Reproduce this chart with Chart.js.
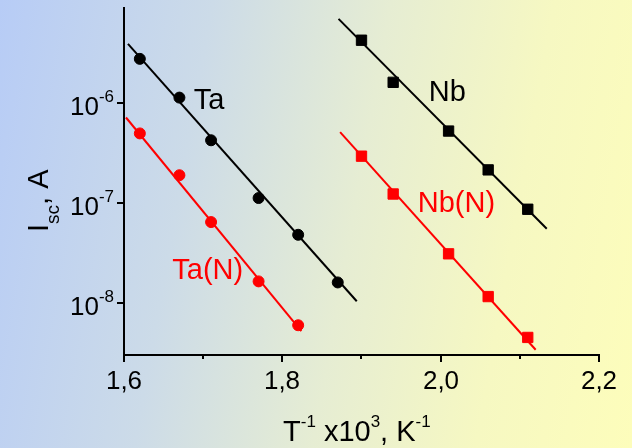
<!DOCTYPE html>
<html>
<head>
<meta charset="utf-8">
<script src="https://cdn.jsdelivr.net/npm/chart.js@4/dist/chart.umd.min.js"></script>
<style>
  html, body { margin:0; padding:0; }
  body { width:632px; height:448px; overflow:hidden;
         background: linear-gradient(100deg, #b7ccf6 0%, #ccdbe8 30%, #e6edd3 55%, #f6f8c2 78%, #fdfdbb 100%); }
  canvas { display:block; }
</style>
</head>
<body>
<canvas id="c" width="632" height="448"></canvas>
<script>
// measured points, x = 1000/T, y = Isc (A)
const taX = [1.62, 1.67, 1.71, 1.77, 1.82, 1.87];
const taY = [2.78e-6, 1.14e-6, 4.27e-7, 1.13e-7, 4.85e-8, 1.62e-8];
const taNX = [1.62, 1.67, 1.71, 1.77, 1.82];
const taNY = [5.0e-7, 1.91e-7, 6.5e-8, 1.66e-8, 6.05e-9];
const nbX = [1.90, 1.94, 2.01, 2.06, 2.11];
const nbY = [4.27e-6, 1.62e-6, 5.28e-7, 2.16e-7, 8.73e-8];
const nbNX = [1.90, 1.94, 2.01, 2.06, 2.11];
const nbNY = [2.96e-7, 1.24e-7, 3.13e-8, 1.17e-8, 4.57e-9];

// fit lines (end points)
const taFitX = [1.605, 1.894],  taFitY = [3.92e-6, 1.05e-8];
const taNFitX = [1.6025, 1.824], taNFitY = [7.21e-7, 5.28e-9];
const nbFitX = [1.871, 2.134],  nbFitY = [6.98e-6, 5.57e-8];
const nbNFitX = [1.873, 2.120], nbNFitY = [5.15e-7, 3.44e-9];

// series labels
const labelText = ["Ta", "Nb", "Nb(N)", "Ta(N)"];
const labelX = [1.688, 1.985, 1.971, 1.661];
const labelY = [8.86e-7, 1.06e-6, 8.22e-8, 1.77e-8];
const labelColor = ["#000", "#000", "#ff0000", "#ff0000"];

const xMajor = [1.6, 1.8, 2.0, 2.2];
const xMinor = [1.7, 1.9, 2.1];
const yMajorExp = [-8, -7, -6];

const FONT = "'Liberation Sans', Arial, sans-serif";

function pts(xs, ys){ return xs.map((x,i)=>({x:x, y:ys[i]})); }

function pointSet(xs, ys, color, style, r){
  return { data: pts(xs, ys), showLine:false, pointStyle:style, pointRadius:r,
           backgroundColor:color, borderColor:color, borderWidth:1, order:1 };
}
function fitSet(xs, ys, color){
  return { data: pts(xs, ys), showLine:true, pointRadius:0, borderColor:color,
           borderWidth:2, fill:false, order:2 };
}

const overlay = {
  id:'overlay',
  afterDraw(chart){
    const ctx = chart.ctx, xs = chart.scales.x, ys = chart.scales.y;
    const bottom = ys.bottom, left = xs.left;
    ctx.save();
    ctx.strokeStyle = '#000'; ctx.lineWidth = 2; ctx.fillStyle = '#000';
    // x ticks
    xMajor.forEach(v=>{
      const px = Math.round(xs.getPixelForValue(v));
      ctx.beginPath(); ctx.moveTo(px, bottom); ctx.lineTo(px, bottom+7); ctx.stroke();
      ctx.font = "26px " + FONT; ctx.textAlign='center'; ctx.textBaseline='alphabetic';
      ctx.fillText(v.toFixed(1).replace('.', ','), px, 389);
    });
    xMinor.forEach(v=>{
      const px = Math.round(xs.getPixelForValue(v));
      ctx.beginPath(); ctx.moveTo(px, bottom); ctx.lineTo(px, bottom+4); ctx.stroke();
    });
    // y ticks
    yMajorExp.forEach(e=>{
      const py = Math.round(ys.getPixelForValue(Math.pow(10, e)));
      ctx.beginPath(); ctx.moveTo(left, py); ctx.lineTo(left-7, py); ctx.stroke();
      ctx.textAlign='left'; ctx.textBaseline='alphabetic';
      ctx.font = "17px " + FONT;
      const sup = String(e);
      const sw = ctx.measureText(sup).width;
      ctx.font = "26px " + FONT;
      const mw = ctx.measureText("10").width;
      const xr = 114;
      ctx.fillText("10", xr - sw - mw, py + 11.5);
      ctx.font = "17px " + FONT;
      ctx.fillText(sup, xr - sw, py - 1);
    });
    // series labels
    ctx.font = "29px " + FONT; ctx.textAlign='left'; ctx.textBaseline='alphabetic';
    labelText.forEach((t,i)=>{
      ctx.fillStyle = labelColor[i];
      ctx.fillText(t, xs.getPixelForValue(labelX[i]), ys.getPixelForValue(labelY[i]));
    });
    // x title: T^-1 x10^3, K^-1
    ctx.fillStyle = '#000';
    const parts = [["T",0],["-1",1],[" x10",0],["3",1],[", K",0],["-1",1]];
    let x = 283; const base = 441;
    parts.forEach(p=>{
      ctx.font = (p[1] ? "17px " : "29px ") + FONT;
      ctx.fillText(p[0], x, p[1] ? base - 14 : base);
      x += ctx.measureText(p[0]).width;
    });
    // y title: I_sc, A (rotated)
    ctx.translate(48, 232);
    ctx.rotate(-Math.PI/2);
    const yp = [["I",0],["sc",1],[", A",0]];
    let yx = 0;
    yp.forEach(p=>{
      ctx.font = (p[1] ? "19px " : "29px ") + FONT;
      ctx.fillText(p[0], yx, p[1] ? 11 : 0);
      yx += ctx.measureText(p[0]).width;
    });
    ctx.restore();
  }
};

new Chart(document.getElementById('c'), {
  type:'scatter',
  data:{ datasets:[
    fitSet(taFitX, taFitY, '#000'),
    fitSet(taNFitX, taNFitY, '#ff0000'),
    fitSet(nbFitX, nbFitY, '#000'),
    fitSet(nbNFitX, nbNFitY, '#ff0000'),
    pointSet(taX, taY, '#000', 'circle', 5.5),
    pointSet(taNX, taNY, '#ff0000', 'circle', 5.5),
    pointSet(nbX, nbY, '#000', 'rect', 7.3),
    pointSet(nbNX, nbNY, '#ff0000', 'rect', 7.3)
  ]},
  options:{
    responsive:false, animation:false,
    layout:{ padding:{ left:0, right:33, top:6, bottom:0 } },
    plugins:{ legend:{display:false}, tooltip:{enabled:false} },
    scales:{
      x:{ type:'linear', min:1.6, max:2.2,
          grid:{ display:false },
          border:{ display:true, color:'#000', width:2 },
          ticks:{ display:false },
          afterFit(s){ s.height = 93; } },
      y:{ type:'logarithmic', min:3.05e-9, max:8.9e-6,
          grid:{ display:false },
          border:{ display:true, color:'#000', width:2 },
          ticks:{ display:false },
          afterFit(s){ s.width = 124; } }
    }
  },
  plugins:[overlay]
});
</script>
</body>
</html>
